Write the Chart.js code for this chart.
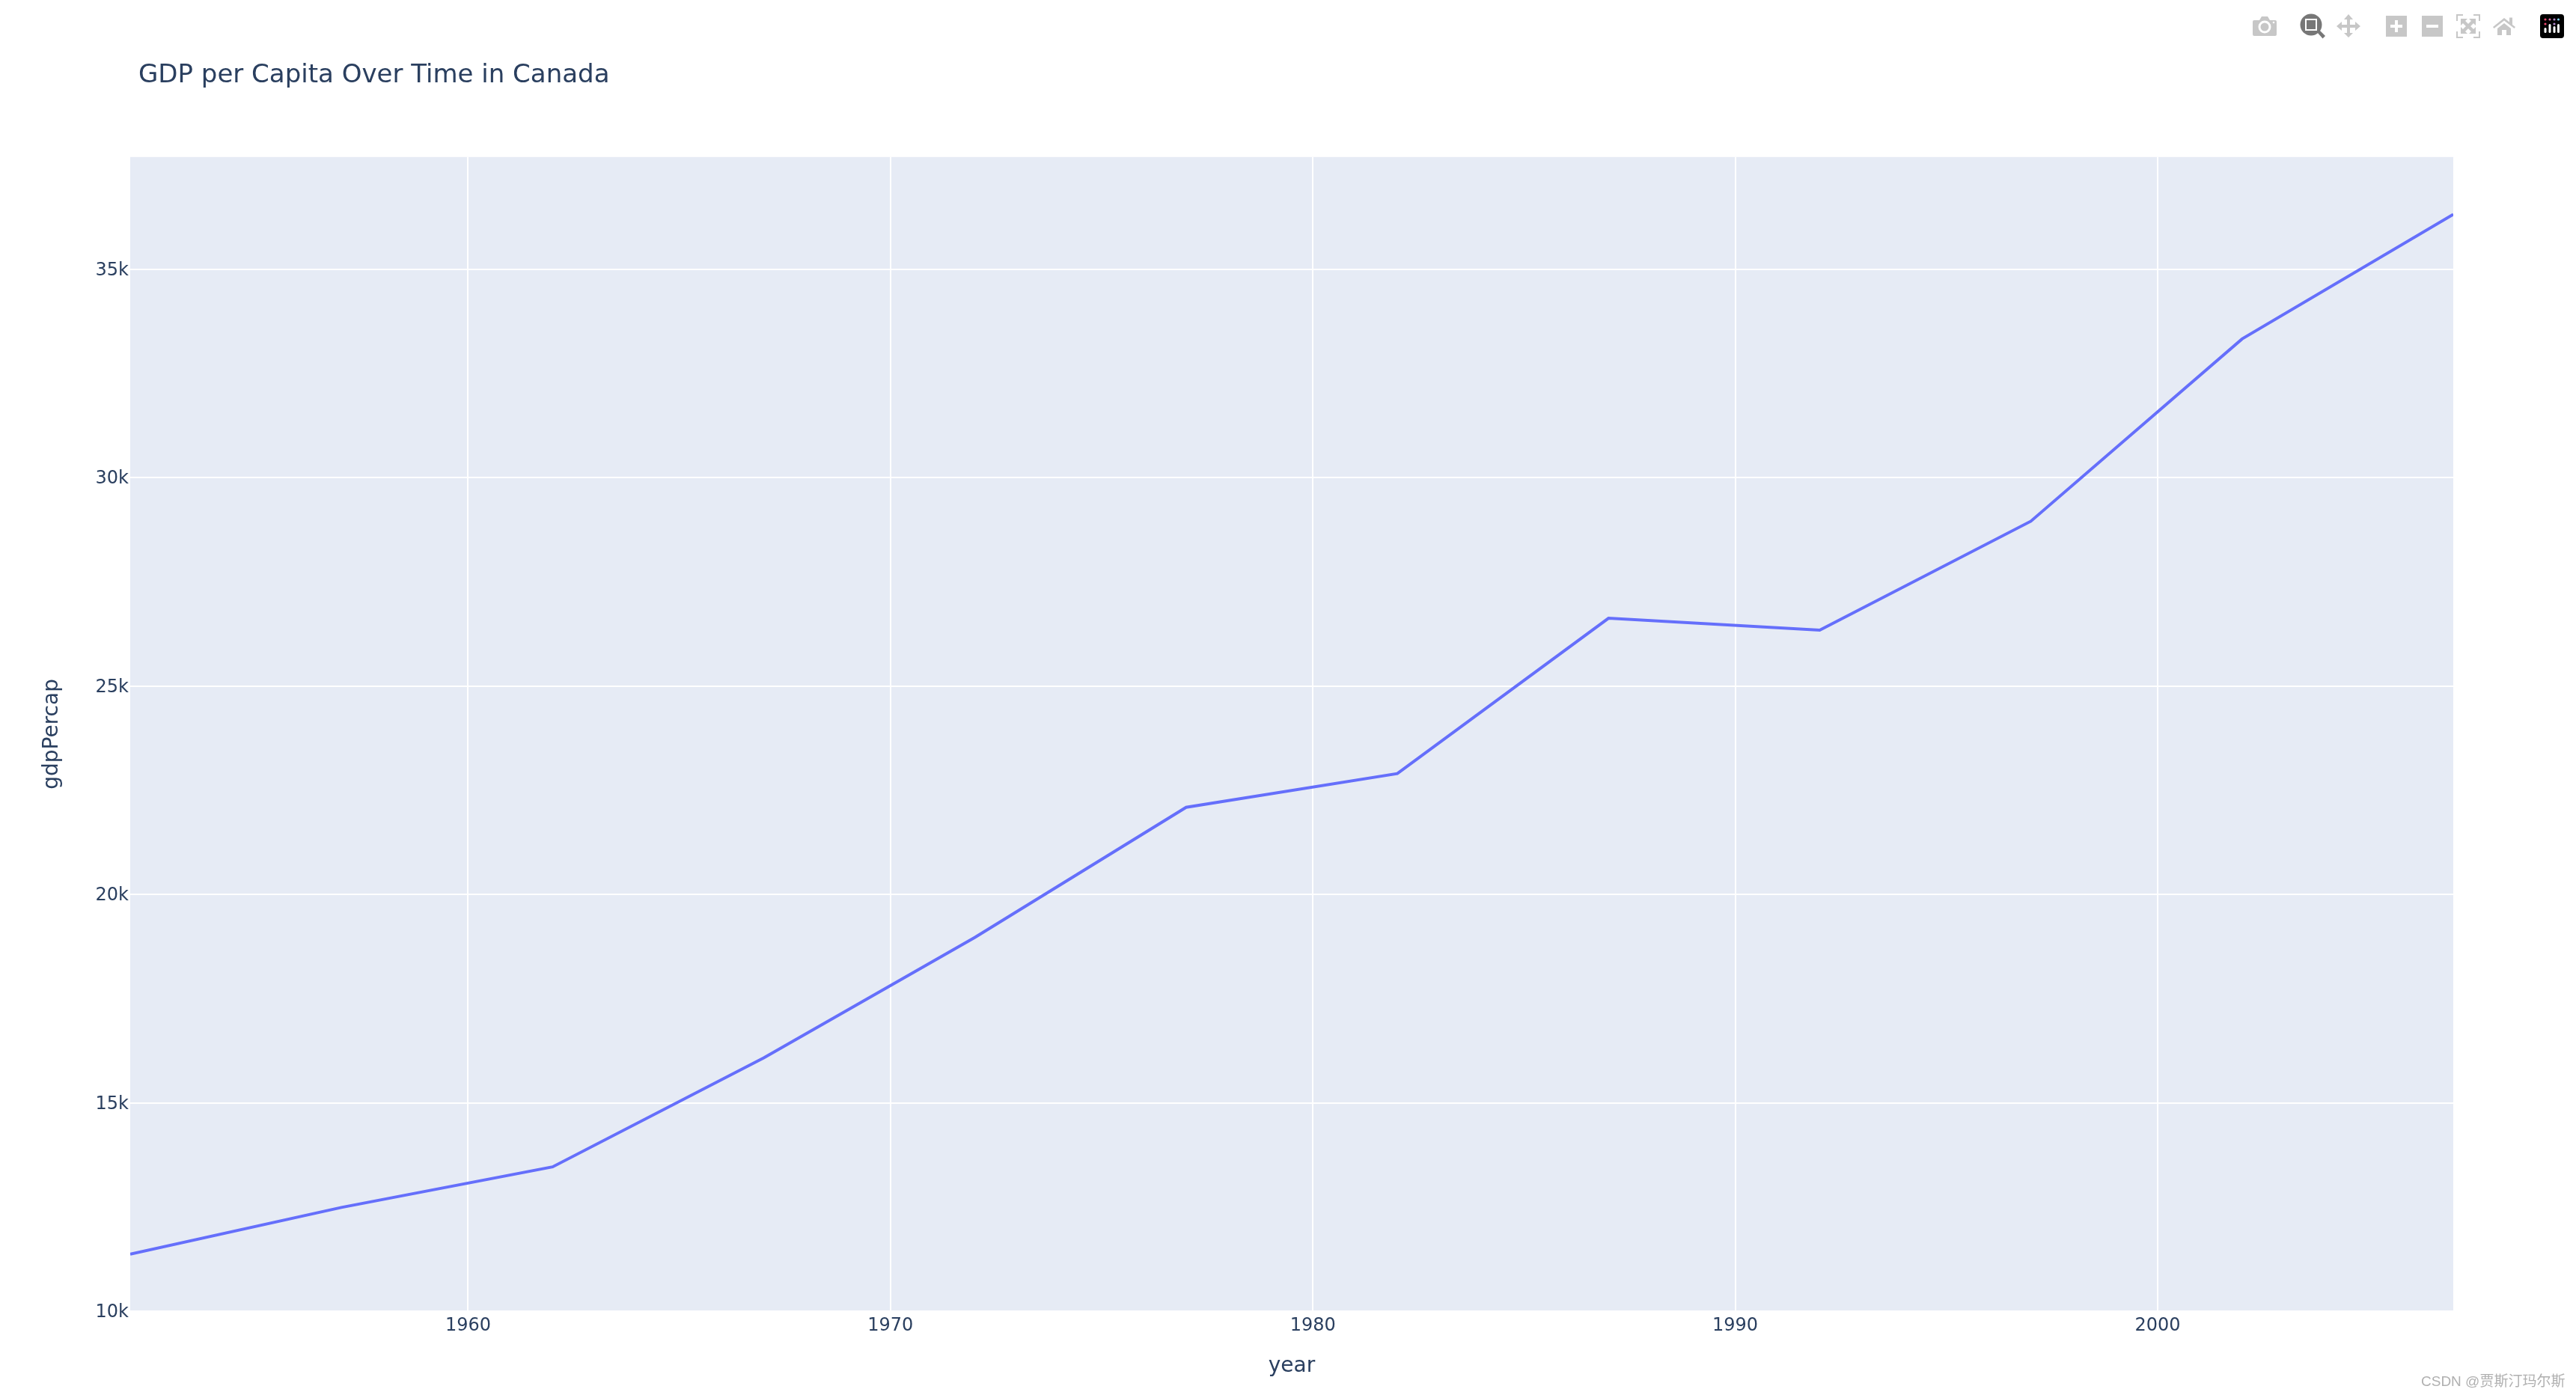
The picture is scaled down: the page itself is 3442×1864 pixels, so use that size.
<!DOCTYPE html>
<html>
<head>
<meta charset="utf-8">
<title>GDP per Capita Over Time in Canada</title>
<script src="https://cdn.jsdelivr.net/npm/chart.js@4"></script>
<style>
  html, body { margin: 0; padding: 0; background: #fff; }
  #wrap { position: relative; width: 3442px; height: 1864px; overflow: hidden; }
  #grafica { position: absolute; left: 0; top: 0; }
  #modebar { position: absolute; left: 0; top: 0; }
  #marca {
    position: absolute; left: 3235px; top: 1830px; white-space: nowrap;
    font: 19px "Liberation Sans", "Noto Sans CJK SC", sans-serif; color: #b0b0b0;
  }
</style>
</head>
<body>
<div id="wrap">
  <canvas id="grafica" width="3442" height="1864"></canvas>
  <svg id="modebar" width="3442" height="70" viewBox="0 0 3442 70">
    <!-- camera -->
    <g fill="#c7c7c7">
      <path d="M3012 27h7l3-5h8l3 5h7a2 2 0 0 1 2 2v17a2 2 0 0 1-2 2h-28a2 2 0 0 1-2-2v-17a2 2 0 0 1 2-2z"/>
      <circle cx="3026" cy="36" r="8.5" fill="#fff"/>
      <circle cx="3026" cy="36" r="5.5"/>
      <circle cx="3038" cy="30" r="1.3" fill="#fff"/>
    </g>
    <!-- zoom, active -->
    <g fill="#777">
      <circle cx="3088" cy="33" r="14.5"/>
      <path d="M3096 43l3-3 8 8-3.5 3.5z"/>
      <rect x="3080" y="25" width="16" height="16" fill="#fff"/>
      <rect x="3082" y="27" width="12" height="12"/>
    </g>
    <!-- pan -->
    <path fill="#c7c7c7" d="M3138 19l6 7h-4v7h7v-4l7 6-7 6v-4h-7v7h4l-6 6-6-6h4v-7h-7v4l-7-6 7-6v4h7v-7h-4z"/>
    <!-- zoom in / out -->
    <rect x="3188" y="21" width="28" height="28" fill="#c7c7c7"/>
    <path fill="#fff" d="M3200 27h4v6h6v4h-6v6h-4v-6h-6v-4h6z"/>
    <rect x="3236" y="21" width="28" height="28" fill="#c7c7c7"/>
    <rect x="3242" y="33" width="16" height="4" fill="#fff"/>
    <!-- autoscale -->
    <path fill="none" stroke="#c7c7c7" stroke-width="2" d="M3291 20h-8v8M3305 20h8v8M3291 50h-8v-8M3305 50h8v-8"/>
    <path fill="none" stroke="#c7c7c7" stroke-width="4.500" d="M3291 28l14 14M3305 28l-14 14"/>
    <path fill="#c7c7c7" d="M3288 25h9l-9 9zM3308 25h-9l9 9zM3288 45h9l-9-9zM3308 45h-9l9-9z"/>
    <!-- home -->
    <path fill="#c7c7c7" d="M3346 24l7 5.500v-6h4v9.500l4 3-1.500 2-13.500-10.500-13.500 10.500-1.500-2z"/>
    <path fill="#c7c7c7" d="M3346 31l9 7v9h-6v-7h-6v7h-6v-9z"/>
    <!-- plotly logo -->
    <rect x="3394" y="19" width="32" height="32" rx="4" fill="#000"/>
    <g fill="#fff">
      <rect x="3399.500" y="37" width="3" height="7" rx="1.500"/>
      <rect x="3405.500" y="32" width="3" height="12" rx="1.500"/>
      <rect x="3411.500" y="35" width="3" height="9" rx="1.500"/>
      <rect x="3417" y="32" width="3" height="12" rx="1.500"/>
    </g>
    <circle cx="3401" cy="26" r="1.600" fill="#ef476f"/>
    <circle cx="3407" cy="26" r="1.600" fill="#d86f9f"/>
    <circle cx="3413" cy="26" r="1.600" fill="#b388c9"/>
    <circle cx="3418.500" cy="26" r="1.600" fill="#7fd1ee"/>
    <circle cx="3401" cy="32" r="1.600" fill="#ef476f"/>
    <circle cx="3413" cy="32" r="1.600" fill="#b388c9"/>
  </svg>
  <div id="marca">CSDN @贾斯汀玛尔斯</div>
</div>
<script>
const years = [1952, 1957, 1962, 1967, 1972, 1977, 1982, 1987, 1992, 1997, 2002, 2007];
const gdpPercap = [11367, 12490, 13462, 16077, 18971, 22091, 22899, 26627, 26343, 28955, 33329, 36319];
const xTicks = [1960, 1970, 1980, 1990, 2000];
const yTicks = [10000, 15000, 20000, 25000, 30000, 35000];

const fuente = '"DejaVu Sans", Verdana, sans-serif';
const tinta = "#2a3f5f";

// fondo del area de la grafica y ajuste del titulo
const fondo = {
  id: "fondo",
  afterLayout(chart) {
    chart.titleBlock.left = chart.chartArea.left + 11;
  },
  beforeDraw(chart) {
    const a = chart.chartArea;
    chart.ctx.fillStyle = "#e6ebf5";
    chart.ctx.fillRect(a.left, a.top, a.right - a.left, a.bottom - a.top);
  }
};

new Chart(document.getElementById("grafica").getContext("2d"), {
  type: "line",
  data: {
    datasets: [{
      data: years.map((y, i) => ({ x: y, y: gdpPercap[i] })),
      borderColor: "#656ffb",
      borderWidth: 4,
      pointRadius: 0,
      tension: 0
    }]
  },
  options: {
    responsive: false,
    animation: false,
    layout: { padding: { left: 0, right: 164, top: 0, bottom: 0 } },
    plugins: {
      legend: { display: false },
      tooltip: { enabled: false },
      title: {
        display: true,
        fullSize: false,
        text: "GDP per Capita Over Time in Canada",
        align: "start",
        color: tinta,
        font: { family: fuente, size: 34, weight: "normal" },
        padding: { top: 81, bottom: 88 }
      }
    },
    scales: {
      x: {
        type: "linear",
        min: 1952,
        max: 2007,
        afterBuildTicks: s => { s.ticks = xTicks.map(v => ({ value: v })); },
        afterFit: s => { s.height = 112; },
        grid: { color: "#fff", lineWidth: 2, drawTicks: false },
        border: { display: false },
        ticks: {
          color: tinta,
          font: { family: fuente, size: 24 },
          padding: 5,
          maxRotation: 0,
          autoSkip: false,
          callback: v => String(v)
        },
        title: {
          display: true,
          text: "year",
          color: tinta,
          font: { family: fuente, size: 28 },
          padding: { top: 0, bottom: 21 }
        }
      },
      y: {
        min: 10000,
        max: 37694,
        afterBuildTicks: s => { s.ticks = yTicks.map(v => ({ value: v })); },
        afterFit: s => { s.width = 174; },
        grid: { color: "#fff", lineWidth: 2, drawTicks: false },
        border: { display: false },
        ticks: {
          color: tinta,
          font: { family: fuente, size: 24 },
          padding: 2,
          labelOffset: 2,
          autoSkip: false,
          callback: v => (v / 1000) + "k"
        },
        title: {
          display: true,
          text: "gdpPercap",
          color: tinta,
          font: { family: fuente, size: 28 },
          padding: { top: 53, bottom: 0 }
        }
      }
    }
  },
  plugins: [fondo]
});
</script>
</body>
</html>
